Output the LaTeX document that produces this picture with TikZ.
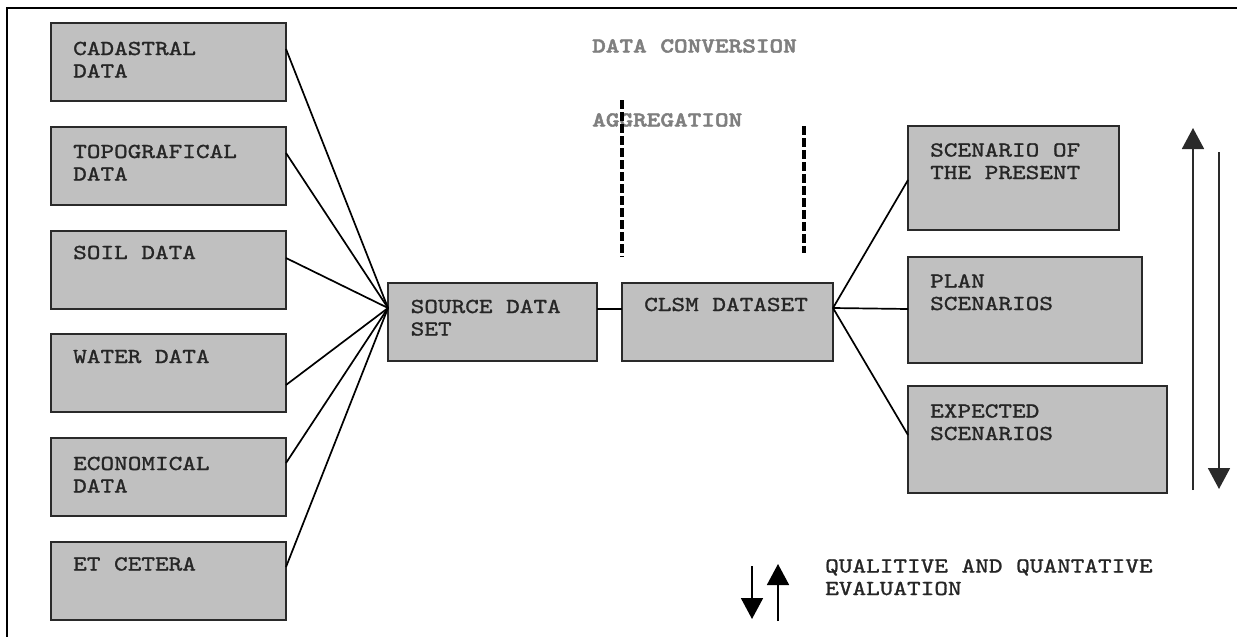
\documentclass[tikz,border=0pt]{standalone}
\usepackage{fontspec}
\newfontfamily\boxfont[Extension=.otf, FakeStretch=1.22, FakeBold=1.3]{lmmono10-regular}
\newfontfamily\headfont[Extension=.otf, FakeStretch=1.22, FakeBold=2.2]{lmmonolt10-bold}
\usetikzlibrary{arrows.meta,calc}
\definecolor{boxfill}{HTML}{C0C0C0}
\definecolor{boxline}{HTML}{2A2A2A}
\definecolor{inktext}{HTML}{262626}
\definecolor{headtext}{HTML}{7F7F7F}
\begin{document}
\begin{tikzpicture}[x=1pt,y=-1pt,
  box/.style={draw=boxline, fill=boxfill, line width=2.2pt, anchor=north west,
              inner sep=0pt, outer sep=0pt},
  lbl/.style={font=\boxfont\fontsize{21.3}{22.5}\selectfont, text=inktext,
              align=left, anchor=base west, inner sep=0pt},
  head/.style={font=\headfont\fontsize{21.3}{22.5}\selectfont, text=headtext,
              anchor=base west, inner sep=0pt},
  link/.style={line width=1.7pt, black},
  divider/.style={line width=3.2pt, black, dash pattern=on 9pt off 3pt},
  flow/.style={line width=1.8pt, draw=boxline,
               -{Triangle[width=22pt,length=21pt]}}]
\useasboundingbox (0,0) rectangle (1237,637);

% outer frame (top and left edges)
\draw[line width=1.4pt, black] (1237,8) -- (7,8) -- (7,637);

% source boxes on the left
\node[box, minimum width=235pt, minimum height=78pt] (cad)   at (51,23)  {};
\node[box, minimum width=235pt, minimum height=78pt] (topo)  at (51,127) {};
\node[box, minimum width=235pt, minimum height=78pt] (soil)  at (51,231) {};
\node[box, minimum width=235pt, minimum height=78pt] (water) at (51,334) {};
\node[box, minimum width=235pt, minimum height=78pt] (econ)  at (51,438) {};
\node[box, minimum width=235pt, minimum height=78pt] (etc)   at (51,542) {};

% labels sit on the baseline of their last line
\node[lbl] (cadT)   at (73,77.5)  {CADASTRAL\\DATA};
\node[lbl] (topoT)  at (73,180.5) {TOPOGRAFICAL\\DATA};
\node[lbl] (soilT)  at (73,259)   {SOIL DATA};
\node[lbl] (waterT) at (73,363)   {WATER DATA};
\node[lbl] (econT)  at (73,492.5) {ECONOMICAL\\DATA};
\node[lbl] (etcT)   at (73,570.5) {ET CETERA};

% central data sets
\node[box, minimum width=209pt, minimum height=78pt] (src)  at (388,283) {};
\node[box, minimum width=211pt, minimum height=78pt] (clsm) at (622,283) {};
\node[lbl] (srcT)  at (410.5,335.5) {SOURCE DATA\\SET};
\node[lbl] (clsmT) at (644,311)     {CLSM DATASET};

% scenario boxes on the right
\node[box, minimum width=211pt, minimum height=104pt] (scen) at (908,126) {};
\node[box, minimum width=234pt, minimum height=106pt] (plan) at (908,257) {};
\node[box, minimum width=259pt, minimum height=107pt] (expc) at (908,386) {};
\node[lbl] (scenT) at (930,179) {SCENARIO OF\\THE PRESENT};
\node[lbl] (planT) at (930,310) {PLAN\\SCENARIOS};
\node[lbl] (expcT) at (930,440) {EXPECTED\\SCENARIOS};

% attachment points
\coordinate (hubL) at ($(src.north west)+(0,25)$);
\coordinate (hubR) at ($(clsm.north east)+(0,25)$);

% connectors from the data sources to the source data set
\draw[link] ($(cad.north east)+(0,26)$)   -- (hubL);
\draw[link] ($(topo.north east)+(0,26)$)  -- (hubL);
\draw[link] ($(soil.north east)+(0,27)$)  -- (hubL);
\draw[link] ($(water.north east)+(0,51)$) -- (hubL);
\draw[link] ($(econ.north east)+(0,25)$)  -- (hubL);
\draw[link] ($(etc.north east)+(0,25)$)   -- (hubL);

% source data set to CLSM dataset
\draw[link] ($(src.north east)+(0,26)$) -- ($(clsm.north west)+(0,26)$);

% CLSM dataset to the scenarios
\draw[link] (hubR) -- ($(scen.north west)+(0,54)$);
\draw[link] (hubR) -- ($(plan.north west)+(0,52)$);
\draw[link] (hubR) -- ($(expc.north west)+(0,49)$);

% processing steps
\node[head] (conv) at (592,52.5)  {DATA CONVERSION};
\node[head] (aggr) at (592,126.5) {AGGREGATION};
\coordinate (d1a) at (622,100);
\coordinate (d1b) at (622,257);
\coordinate (d2a) at (804,126);
\coordinate (d2b) at (804,253);
\draw[divider] (d1a) -- (d1b);
\draw[divider] (d2a) -- (d2b);

% evaluation arrows beside the scenarios
\coordinate (upA)   at (1193,490);
\coordinate (upB)   at (1193,128);
\coordinate (downA) at (1219,152);
\coordinate (downB) at (1219,489);
\draw[flow] (upA) -- (upB);
\draw[flow] (downA) -- (downB);

% legend
\coordinate (lgDownA) at (752,566);
\coordinate (lgDownB) at (752,619);
\coordinate (lgUpA)   at (778,621);
\coordinate (lgUpB)   at (778,564);
\draw[flow, draw=black] (lgDownA) -- (lgDownB);
\draw[flow, draw=black] (lgUpA) -- (lgUpB);
\node[lbl] (legT) at (825,595) {QUALITIVE AND QUANTATIVE\\EVALUATION};
\end{tikzpicture}
\end{document}
